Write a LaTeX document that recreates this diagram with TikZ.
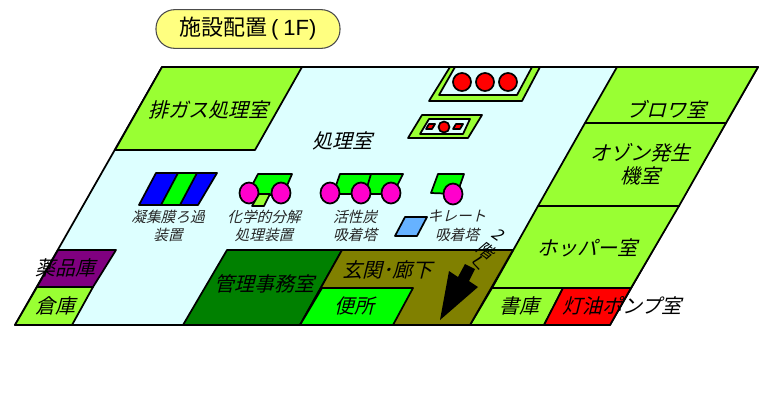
\documentclass[tikz,border=0pt]{standalone}
\usepackage{fontspec}
\setmainfont{Liberation Sans}
\newfontfamily\jpfont{Noto Sans CJK JP}
\newfontfamily\jpslant[FakeSlant=0.25]{Noto Sans CJK JP}
\definecolor{roomlime}{HTML}{99FF33}
\definecolor{roomcyan}{HTML}{DDFFFF}
\definecolor{roompurple}{HTML}{800080}
\definecolor{roomdark}{HTML}{008000}
\definecolor{roomolive}{HTML}{808000}
\definecolor{pumpmag}{HTML}{FF00CC}
\definecolor{titleyellow}{HTML}{FFFF80}
\definecolor{towerblue}{HTML}{66B2FF}
\tikzset{
  room/.style={draw=black,line width=1.3pt,line join=round},
  part/.style={draw=black,line width=1.3pt,line join=round},
  roomlabel/.style={font=\jpslant\fontsize{15}{17}\selectfont,inner sep=0pt,align=center},
  partlabel/.style={font=\jpslant\fontsize{11}{14}\selectfont,inner sep=0pt,align=center,text=black!85},
  floorlabel/.style={font=\jpslant\fontsize{12.5}{14}\selectfont,inner sep=0pt},
}
\begin{document}
\begin{tikzpicture}[x=0.75pt,y=-0.75pt]
\useasboundingbox (0,0) rectangle (764,393);
% building
\draw[room,fill=roomcyan] (15,325) -- (162,67) -- (758,67) -- (610,325) -- cycle;
% rooms
\draw[room,fill=roomlime] (162,67) -- (302,67) -- (255,150) -- (115,150) -- cycle;
\draw[room,fill=roomlime] (617,67) -- (758,67) -- (726,123) -- (585,123) -- cycle;
\draw[room,fill=roomlime] (585,123) -- (726,123) -- (679,206) -- (538,206) -- cycle;
\draw[room,fill=roomlime] (538,206) -- (679,206) -- (631,288) -- (492,288) -- cycle;
\draw[room,fill=roomlime] (492,288) -- (563,288) -- (544,325) -- (470,325) -- cycle;
\draw[room,fill=red] (563,288) -- (631,288) -- (610,325) -- (544,325) -- cycle;
\draw[room,fill=roompurple] (58,250) -- (116,250) -- (93,287) -- (37,287) -- cycle;
\draw[room,fill=roomlime] (37,287) -- (93,287) -- (72,325) -- (15,325) -- cycle;
\draw[room,fill=roomdark] (227,250) -- (342,250) -- (300,325) -- (183,325) -- cycle;
\draw[room,fill=roomolive] (342,250) -- (513,250) -- (470,325) -- (300,325) -- cycle;
\draw[room,fill=green] (322,288) -- (413,288) -- (393,325) -- (300,325) -- cycle;
% top equipment
\draw[part,fill=roomlime] (450,67) -- (540,67) -- (522,101) -- (429,101) -- cycle;
\draw[part,fill=roomcyan] (455,67) -- (532,67) -- (517,95) -- (439,95) -- cycle;
\foreach \x in {462,485,508}
  \draw[part,fill=red] (\x,82) circle (9);
\draw[part,fill=roomlime] (422,115) -- (482,115) -- (468,138) -- (408,138) -- cycle;
\draw[part,fill=roomcyan] (429,119) -- (470,119) -- (463,134) -- (420,134) -- cycle;
\draw[part,fill=red] (429,124) -- (435,124) -- (432,129) -- (426,129) -- cycle;
\draw[part,fill=red] (456,124) -- (463,124) -- (460,129) -- (453,129) -- cycle;
\draw[part,fill=red] (444,127) circle (5.5);
% membrane
\draw[part,fill=blue] (156,173) -- (217,173) -- (198,205) -- (139,205) -- cycle;
\draw[part,fill=green] (178,173) -- (197,173) -- (180,205) -- (161,205) -- cycle;
% chemical
\draw[part,fill=green] (258,174) -- (292,174) -- (283,195) -- (247,195) -- cycle;
\draw[part,fill=pumpmag] (249,193) ellipse (9.5 and 10.5);
\draw[part,fill=pumpmag] (281,193) ellipse (9.5 and 10.5);
\draw[part,fill=roomlime] (259,194) -- (270,194) -- (264,206) -- (252,206) -- cycle;
% carbon
\draw[part,fill=green] (340,174) -- (403,174) -- (393,194) -- (333,194) -- cycle;
\draw[part] (371,174) -- (365,194);
\foreach \x in {330,361,391}
  \draw[part,fill=pumpmag] (\x,193) ellipse (9.5 and 10.5);
% chelate
\draw[part,fill=green] (438,174) -- (464,174) -- (457,194) -- (431,193) -- cycle;
\draw[part,fill=pumpmag] (453,194) ellipse (9.5 and 10.5);
\draw[part,fill=towerblue] (405,217) -- (427,217) -- (417,236) -- (395,236) -- cycle;
% arrow
\fill[black] (465,264) -- (475,269) -- (469,281) -- (478,287) -- (440,320) -- (449,271) -- (458,277) -- cycle;
% labels
\node[roomlabel] (exhaust) at (208,110) {排ガス処理室};
\node[roomlabel] (process) at (342,141) {処理室};
\node[roomlabel] (blower) at (666,109) {ブロワ室};
\node[roomlabel] (ozone) at (640,164) {オゾン発生\\機室};
\node[roomlabel] (hopper) at (587,248) {ホッパー室};
\node[roomlabel] (book) at (519,306) {書庫};
\node[roomlabel] (pump) at (622,306) {灯油ポンプ室};
\node[roomlabel] (drug) at (66,268) {薬品庫};
\node[roomlabel] (store) at (56,306) {倉庫};
\node[roomlabel] (office) at (264,284) {管理事務室};
\node[roomlabel] (hall) at (387,270) {玄関･廊下};
\node[roomlabel] (toilet) at (354,306) {便所};
\node[partlabel] (membrane) at (168,226) {凝集膜ろ過\\装置};
\node[partlabel] (chemical) at (264,226) {化学的分解\\処理装置};
\node[partlabel] (carbon) at (355,226) {活性炭\\吸着塔};
\node[partlabel] (chelate) at (457,226) {キレート\\吸着塔};
\node[floorlabel,rotate=-35] (floortwo) at (498,234) {2};
\node[floorlabel,rotate=-35] (floorkai) at (486,250) {階};
\node[floorlabel,rotate=90] (floorhe) at (478,264) {へ};
% title
\node[draw=black!70,line width=0.8pt,fill=titleyellow,rounded corners=14pt,minimum width=138pt,minimum height=29pt,inner sep=0pt,font=\fontsize{16.5}{18}\selectfont] (title) at (248,29) {{\jpfont 施設配置}\,(\,\kern1pt 1F)};
\end{tikzpicture}
\end{document}
